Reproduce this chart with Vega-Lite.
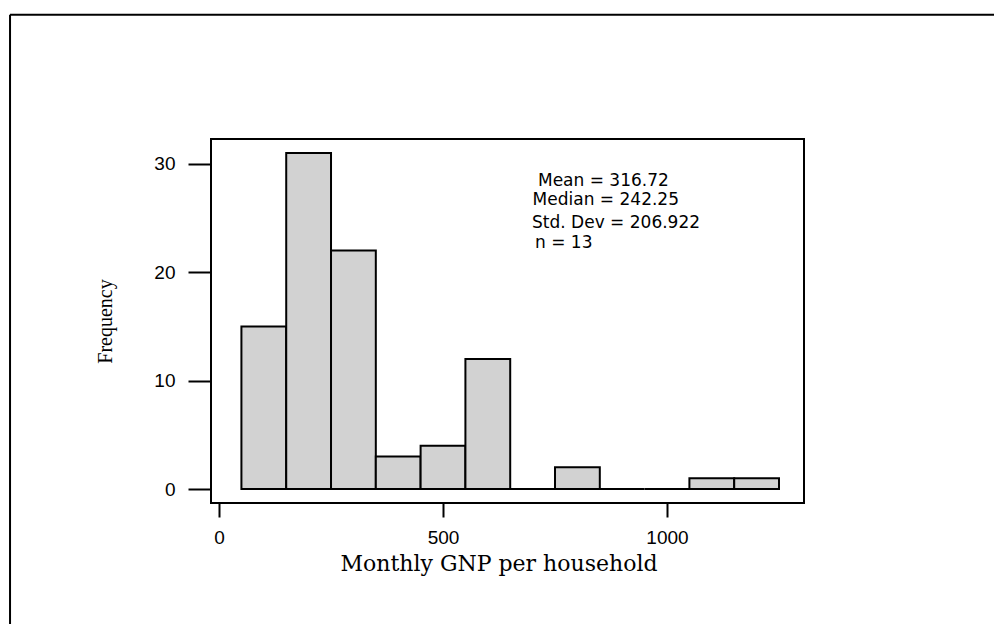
{
  "$schema": "https://vega.github.io/schema/vega-lite/v6.json",
  "width": 593,
  "height": 364,
  "autosize": {"type": "none"},
  "padding": {"left": 211, "top": 139, "right": 190, "bottom": 121},
  "background": "white",
  "config": {
    "view": {"stroke": "black", "strokeWidth": 2},
    "axis": {
      "domain": false,
      "grid": false,
      "tickColor": "black",
      "tickWidth": 2,
      "labelColor": "black",
      "labelFont": "Liberation Sans",
      "labelFontSize": 19,
      "labelFlush": false,
      "titleFont": "Liberation Serif",
      "titleFontWeight": "normal",
      "titleColor": "black"
    }
  },
  "datasets": {
    "bins": [
      {"bin_start": 50, "bin_end": 150, "count": 15},
      {"bin_start": 150, "bin_end": 250, "count": 31},
      {"bin_start": 250, "bin_end": 350, "count": 22},
      {"bin_start": 350, "bin_end": 450, "count": 3},
      {"bin_start": 450, "bin_end": 550, "count": 4},
      {"bin_start": 550, "bin_end": 650, "count": 12},
      {"bin_start": 650, "bin_end": 750, "count": 0},
      {"bin_start": 750, "bin_end": 850, "count": 2},
      {"bin_start": 850, "bin_end": 950, "count": 0},
      {"bin_start": 950, "bin_end": 1050, "count": 0},
      {"bin_start": 1050, "bin_end": 1150, "count": 1},
      {"bin_start": 1150, "bin_end": 1250, "count": 1}
    ],
    "one": [{}]
  },
  "layer": [
    {
      "data": {"name": "bins"},
      "mark": {"type": "rect", "fill": "#d2d2d2", "stroke": "black", "strokeWidth": 2},
      "encoding": {
        "x": {
          "field": "bin_start",
          "type": "quantitative",
          "scale": {"domain": [-17.9, 1305.8], "nice": false, "zero": false},
          "axis": {
            "values": [0, 500, 1000],
            "format": "d",
            "tickSize": 14,
            "labelPadding": 11,
            "title": null
          }
        },
        "x2": {"field": "bin_end"},
        "y": {
          "field": "count",
          "type": "quantitative",
          "scale": {"domain": [-1.29, 32.3], "nice": false, "zero": false},
          "axis": {
            "values": [0, 10, 20, 30],
            "format": "d",
            "tickSize": 23,
            "labelPadding": 13,
            "title": "Frequency",
            "titleFontSize": 20,
            "titleAngle": -90,
            "titleBaseline": "alphabetic",
            "titleAlign": "center",
            "titleX": -100,
            "titleY": 182
          }
        },
        "y2": {"datum": 0}
      }
    },
    {
      "data": {"name": "one"},
      "mark": {"type": "rule", "color": "black", "strokeWidth": 2},
      "encoding": {
        "x": {"datum": -466.5, "type": "quantitative"},
        "x2": {"datum": 1800},
        "y": {"datum": 43.77, "type": "quantitative"}
      }
    },
    {
      "data": {"name": "one"},
      "mark": {"type": "rule", "color": "black", "strokeWidth": 2},
      "encoding": {
        "x": {"datum": -466.5, "type": "quantitative"},
        "y": {"datum": 43.77, "type": "quantitative"},
        "y2": {"datum": -16}
      }
    },
    {
      "data": {"name": "one"},
      "mark": {"type": "text", "align": "center", "baseline": "alphabetic", "font": "DejaVu Serif", "fontSize": 22, "color": "black"},
      "encoding": {
        "x": {"datum": 625, "type": "quantitative"},
        "y": {"datum": -7.57, "type": "quantitative"},
        "text": {"value": "Monthly GNP per household"}
      }
    },
    {
      "data": {"name": "one"},
      "mark": {"type": "text", "align": "left", "baseline": "alphabetic", "font": "DejaVu Sans", "fontSize": 17, "color": "black"},
      "encoding": {
        "x": {"datum": 712, "type": "quantitative"},
        "y": {"datum": 27.98, "type": "quantitative"},
        "text": {"value": "Mean = 316.72"}
      }
    },
    {
      "data": {"name": "one"},
      "mark": {"type": "text", "align": "left", "baseline": "alphabetic", "font": "DejaVu Sans", "fontSize": 17, "color": "black"},
      "encoding": {
        "x": {"datum": 700, "type": "quantitative"},
        "y": {"datum": 26.22, "type": "quantitative"},
        "text": {"value": "Median = 242.25"}
      }
    },
    {
      "data": {"name": "one"},
      "mark": {"type": "text", "align": "left", "baseline": "alphabetic", "font": "DejaVu Sans", "fontSize": 17, "color": "black"},
      "encoding": {
        "x": {"datum": 698.7, "type": "quantitative"},
        "y": {"datum": 24.1, "type": "quantitative"},
        "text": {"value": "Std. Dev = 206.922"}
      }
    },
    {
      "data": {"name": "one"},
      "mark": {"type": "text", "align": "left", "baseline": "alphabetic", "font": "DejaVu Sans", "fontSize": 17, "color": "black"},
      "encoding": {
        "x": {"datum": 705.4, "type": "quantitative"},
        "y": {"datum": 22.2, "type": "quantitative"},
        "text": {"value": "n = 13"}
      }
    }
  ]
}
